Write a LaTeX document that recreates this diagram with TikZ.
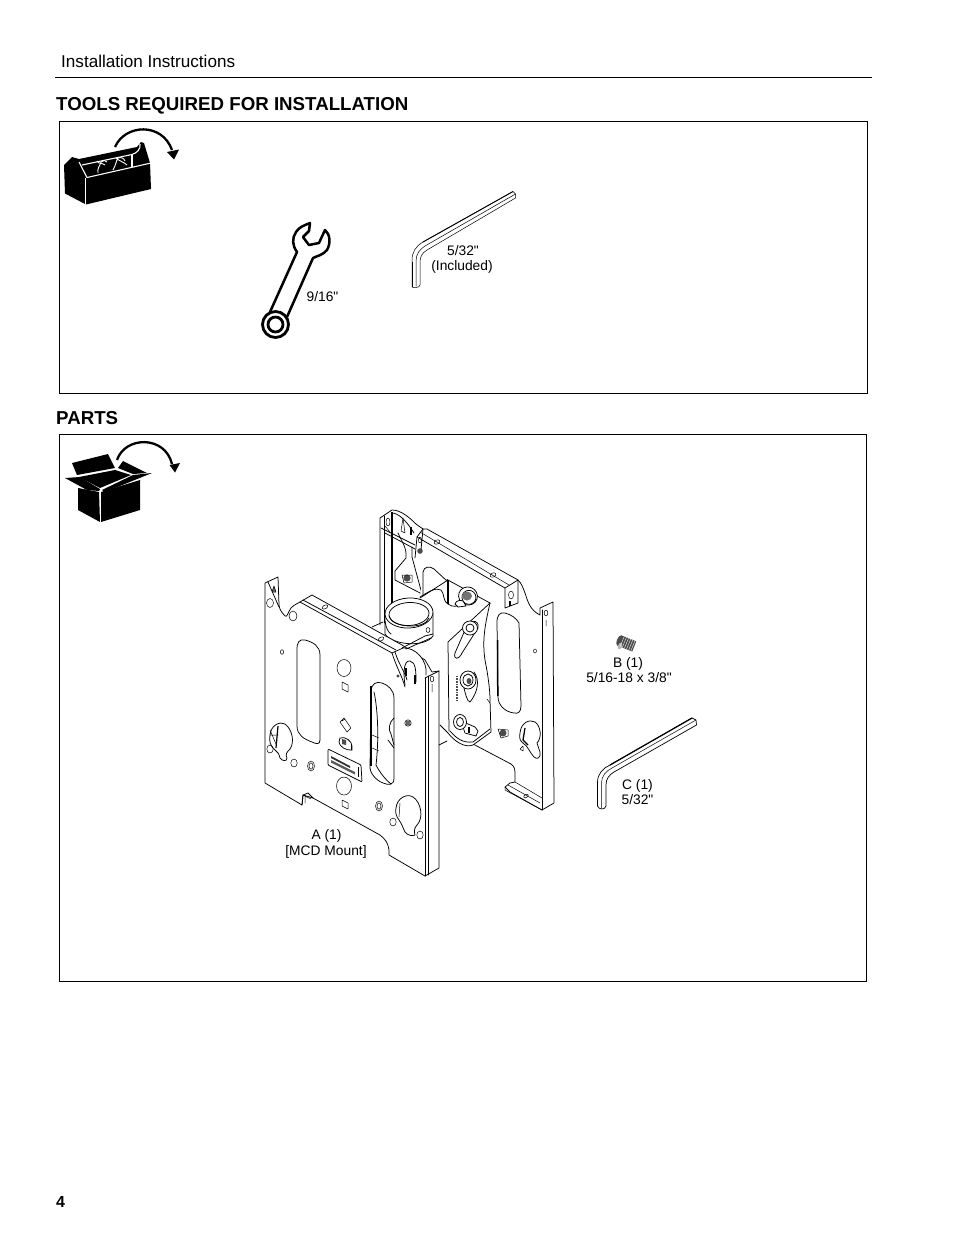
\documentclass[tikz,border=0pt]{standalone}
\usepackage{fontspec}
\setmainfont{Liberation Sans}[Ligatures=TeXOff]
\tikzset{
 ln/.style={line width=.75pt,line join=round,line cap=round},
 thn/.style={line width=.5pt,line join=round,line cap=round},
 frame/.style={draw=black,line width=1pt},
 lbl/.style={font=\fontsize{13.8}{15}\selectfont,align=center,inner sep=0pt},
 head/.style={font=\fontsize{18.7}{20}\selectfont\bfseries,anchor=base west,inner sep=0pt},
 wl/.style={white,line width=1.1pt,line join=round},
 wf/.style={fill=white,ln,draw=black},
 arc/.style={line width=2.3pt,line cap=butt}
}
\begin{document}
\begin{tikzpicture}[x=1pt,y=-1pt]
\useasboundingbox (0,0) rectangle (954,1235);
\fill[white] (0,0) rectangle (954,1235);
% page furniture
\draw[line width=1pt] (55,77) -- (872,77);
\node[font=\fontsize{17.1}{19}\selectfont,anchor=base west,inner sep=0pt] (hdr) at (61,67) {Installation Instructions};
\node[head] (t1) at (56,110) {TOOLS REQUIRED FOR INSTALLATION};
\node[head] (t2) at (56,424) {PARTS};
\node[font=\fontsize{16}{18}\selectfont\bfseries,anchor=base west,inner sep=0pt] (pg) at (56,1207) {4};
\draw[frame] (59.5,121.5) rectangle (867.5,393.5);
\draw[frame] (59.5,434.5) rectangle (866.5,981.5);

% ---------- toolbox icon
\fill (64,165) -- (72,157) -- (79,159) -- (137,147) -- (141,142) -- (144,143) -- (150,163) -- (151,189) -- (86,204.500) -- (65,193.500) -- cycle;
\draw[wl] (79,162) -- (87,177.500) -- (151,163);
\draw[wl] (82,165) -- (132,154.500) .. controls (137,153) and (141,149) .. (140,144);
\draw[wl] (132,154.500) -- (132,167);
\draw[wl] (85.500,178) -- (85.500,205);
\draw[wl,line width=.9pt] (98,173) .. controls (97,168) and (100,166) .. (101,162) .. controls (103,160) and (106,160) .. (107,162) (97,161) .. controls (98,164) and (103,163) .. (105,165)
  (113,170) .. controls (116,165) and (116,161) .. (118,158) .. controls (121,157) and (124,158) .. (125,161) (116,158) .. controls (119,161) and (124,162) .. (127,165);
\draw[arc] (115,147) .. controls (125,124) and (162,122) .. (172,150);
\fill (174,159.500) -- (167,152) -- (179,149.500) -- cycle;

% ---------- wrench
\draw[line width=2.5pt,line join=round,fill=white]
  (270,312) -- (297,252) .. controls (292,245) and (292,238) .. (296,232)
  .. controls (299,227) and (305,225) .. (310,223) -- (309,231) -- (303,237) -- (309,245) -- (319,243)
  -- (325,230) .. controls (330,234) and (331,243) .. (327,250) .. controls (323,255) and (317,256) .. (313,258)
  -- (287,317);
\draw[line width=2.8pt,fill=white] (275.5,324.5) circle[radius=13];
\draw[line width=2.8pt,fill=white] (275.5,324.5) circle[radius=7.5];
\node[lbl] (l916) at (322.5,297) {9/16"};

% ---------- hex key (tools)
\draw[thn] (412,287) -- (412,260) .. controls (412,252) and (416,246) .. (423,242) -- (513,191.5) -- (515.5,194) -- (515.5,198) -- (427,250) .. controls (422,253) and (420,257) .. (420,262) -- (420,285) .. controls (420,288) and (413,288) .. (412,287);
\draw[thn] (416,286) -- (416,261) .. controls (416,254) and (420,249) .. (425,246) -- (515.5,194);
\draw[line width=1.8pt] (412.5,262) -- (412.5,287);
\draw[line width=.9pt] (423,242) -- (513,191.5);
\node[lbl] (l532) at (463,251) {5/32"};
\node[lbl] (linc) at (462,267) {(Included)};

% ---------- box icon
\fill (78,488) -- (99,492) -- (100,522) -- (78,510) -- cycle;
\fill (101,492) -- (140,480) -- (140,510) -- (101,522) -- cycle;
\fill (65,478) -- (80,477) -- (100,489) -- (99,491) -- (87,490) -- cycle;
\fill (102,490) -- (133,475) -- (152,473) -- (105,492) -- cycle;
\fill (72,463) -- (108,454) -- (115,468) -- (77,475) -- cycle;
\fill (123,461) -- (147,473) -- (133,474) -- (118,468) -- cycle;
\fill (79,477) -- (115,470) -- (131,475) -- (100,488) -- cycle;
\draw[arc] (117,460) .. controls (125,436) and (165,435) .. (172,464);
\fill (175,472.500) -- (169.500,465) -- (180,463) -- cycle;

% ---------- back plate
\fill[white] (540,608) -- (553,602) -- (554,803) -- (542,810) -- (505,787) -- (515,773) -- (473,744) -- (440,725) -- (440,640) -- (505,588) -- (518,580) -- cycle;
\draw[ln] (525,593) .. controls (528,602) and (530,610) .. (540,615) -- (540,608) -- (553,602) -- (554,803) -- (542,810) -- (510,792) -- (505,787) -- (510,783) -- (515,782) -- (515,773)
  .. controls (515,769) and (514,766) .. (511,764) -- (473,744);
\draw[ln] (542,610) -- (542,810);
\draw[thn] (515,782) -- (542,798) (505,787) -- (505,790) -- (542,810) (508,785) -- (540,803);
\draw[thn,rotate around={30:(526,796)}] (526,796) ellipse (2.5 and 1.5);
\draw[thn] (546,613) ellipse (1.8 and 3) (546,620) -- (546,626);
% back slot
\draw[ln] (497,622) .. controls (497,615) and (500,612) .. (505,613) .. controls (512,615) and (516,618) .. (519,623) -- (521,706) .. controls (521,712) and (518,714) .. (514,713) .. controls (505,712) and (498,705) .. (498,697) -- cycle;
\draw[line width=1.5pt] (497.5,640) -- (497.8,696);
\draw[thn] (535,651) ellipse (1.5 and 2);
% back keyhole
\draw[ln] (520,733) .. controls (521,722) and (530,719) .. (535,722) .. controls (541,726) and (542,738) .. (537,743) -- (540,752) .. controls (541,758) and (537,760) .. (534,757) .. controls (530,753) and (528,746) .. (523,743) .. controls (520,741) and (519,738) .. (520,733) -- cycle;
\draw[line width=1.3pt] (525,728) -- (523,740) -- (528,745);
\draw[thn] (520,749) -- (523,746) -- (523,751) -- cycle;
% small hex screw on back plate
\fill[black!70] (503,733) circle[radius=3.5];
\draw[thn] (498,729) -- (508,730) -- (508,736) -- (501,738) -- cycle;

% ---------- back left bracket
\fill[white] (380,518) -- (392,510) -- (423,529) -- (423,597) -- (392,625) -- (380,625) -- cycle;
\draw[ln] (380,625) -- (380,518) -- (392,510) .. controls (400,510) and (408,516) .. (416,524) -- (423,529);
\draw[line width=1.5pt] (392,512) -- (392,622);
\draw[ln] (384,516) -- (384,623);
\draw[ln] (381,528) -- (415,545) (385,533) -- (415,549);
\draw[ln] (392,513) .. controls (398,513) and (406,520) .. (414,533);
\draw[thn] (388,522) ellipse (2 and 4);
\draw[thn] (385,526) -- (390,532);
\draw[ln] (398,533) .. controls (402,542) and (407,548) .. (406,558) -- (395,571) -- (395,580) -- (422,594) -- (412,557) -- (412,547);
\draw[thn] (403,518) -- (405,533) -- (401,531) -- cycle;
\draw[line width=1.5pt] (411,527) -- (411,535);
\fill[black!70] (407,578) circle[radius=3.6];
\draw[thn] (402,575) -- (412,575) -- (412,582) -- (404,583) -- cycle;

% ---------- back upper bracket (top)
\fill[white] (423,529) -- (427,529) -- (518,580) -- (518,603) -- (505,608) -- (417,558) -- (417,537) -- cycle;
\draw[ln] (415,558) -- (417,537) -- (423,529) -- (427,529) -- (518,580) .. controls (522,584) and (523,588) .. (525,593);
\draw[ln] (417,537) -- (505,588) -- (505,608) -- (518,603) -- (518,580) (423,529) -- (421,550) (505,588) -- (518,580);
\draw[thn] (420,532) -- (509,585);
\draw[thn] (511,595) ellipse (2.5 and 4);
\draw[line width=1.2pt] (510,601) -- (510,606);
\draw[thn,rotate around={28:(437,542)}] (437,542) ellipse (3 and 2);
\draw[thn,rotate around={28:(493,575)}] (493,575) ellipse (3 and 2);
\fill[black!70] (420,551) circle[radius=2.8];
\draw[thn] (420,540) ellipse (1.5 and 3);

% ---------- centre body
\fill[white] (423,572) .. controls (424,566) and (430,566) .. (434,569) -- (445,580) -- (490,603) -- (485,660) -- (491,732) -- (473,745) -- (448,733) -- (440,725) -- (440,645) -- (420,597) -- cycle;
\draw[ln] (423,595) -- (423,572) .. controls (424,566) and (430,566) .. (434,569) -- (447,581);
\draw[ln] (490,603) -- (447,579.500);
\draw[ln] (490,603)  .. controls (485,625) and (482,640) .. (485,660) .. controls (488,675) and (490,690) .. (490,700) -- (491,732) -- (473,745) .. controls (465,748) and (455,742) .. (448,733) -- (440,725);
\draw[ln] (420,598) -- (448,580);
\draw[line width=1.2pt] (448,580) -- (448,604);
\draw[ln] (448,642) -- (490,603) (448,642) -- (449,731);
\draw[ln] (420,597) .. controls (428,592) and (436,587) .. (441,590) .. controls (445,594) and (442,600) .. (448,604) .. controls (453,608) and (458,606) .. (462,604);
\draw[ln] (450,731) .. controls (457,739) and (463,743) .. (473,742) -- (490,729);
% bolts
\draw[ln,fill=white,rotate around={-20:(468,596)}] (468,596) ellipse (9.5 and 9);
\draw[ln,rotate around={-20:(468,597)}] (469,597) ellipse (7 and 7);
\fill[black!55] (467,596) ellipse (5 and 4.5);
\draw[wf] (455,604) .. controls (456,600) and (461,600) .. (463,601) -- (466,606) -- (458,607) -- cycle;
\draw[ln] (472,622) .. controls (476,620) and (479,623) .. (478,628) -- (462,653) .. controls (459,660) and (453,660) .. (455,653) -- (465,630) .. controls (466,626) and (468,622) .. (472,622) -- cycle;
\draw[wf] (470,628) ellipse (7.5 and 7);
\draw[ln] (470,628) ellipse (4 and 4);
% upper bolt on body
\draw[ln] (474,672) .. controls (480,680) and (478,692) .. (470,702) .. controls (467,702) and (465,692) .. (464,688);
\draw[wf] (468,680) ellipse (8 and 9);
\draw[ln] (468,680) ellipse (5 and 6);
\fill[black!70] (469,681) ellipse (2.5 and 3);
% lower bolt on body
\draw[wf] (461,721) -- (475,727) -- (478,731) -- (476,736) -- (465,733) -- cycle;
\draw[wf] (460,722) ellipse (6.5 and 7.5);
\draw[ln] (460,722) ellipse (3.5 and 4.5);
\draw[line width=1.4pt] (469,727) -- (469,733);
\draw[line width=2pt,black!70,dash pattern=on 1pt off .6pt] (456.5,676) -- (456.5,701);
\draw[thn] (487,699) -- (490,703);

% ---------- collar (tube)
\draw[ln] (372,627) -- (383,622);
\draw[wf] (385,613) -- (385,634) .. controls (392,645) and (425,648) .. (433,636) -- (433,613) -- cycle;
\draw[ln,fill=white,rotate around={3:(409,613)}] (409,613) ellipse (24 and 15);
\draw[ln,rotate around={3:(409,614)}] (409,614) ellipse (20 and 11.5);
\draw[ln] (389,616) .. controls (392,628) and (425,630) .. (429,618);
\draw[thn] (428,630) ellipse (2 and 2.5);
\draw[ln] (385,621) .. controls (386,628) and (388,632) .. (391,634);

% ---------- front plate
\draw[wf] (265,583) -- (278,577) -- (279,605) .. controls (280,612) and (283,613) .. (285,616) .. controls (287,618) and (288,612) .. (291,608)
  .. controls (295,604) and (297,604) .. (300,602) -- (312,595) -- (402,645) -- (425,660) -- (432,672) -- (439,671) -- (439,868) -- (425,876) -- (389,855) -- (389,850)
  .. controls (388,843) and (386,840) .. (380,835) -- (313,798) -- (303,795) -- (302,805) -- (265,783) -- cycle;
\draw[ln] (425,678) -- (425,876) (428,676) -- (428,875);
\draw[ln] (425,678) -- (439,671);
\draw[ln] (300,602) -- (392,653) (303,600) -- (396,650);
% top left corner details
\draw[ln] (268,582) -- (279,607);
\draw[thn,fill=black!60] (274,586) -- (276,592) -- (272,592) -- cycle;
\draw[thn] (270,603) ellipse (3.5 and 4.5);
\draw[thn] (293,616) ellipse (4 and 5);
\draw[thn,rotate around={28:(325,607)}] (325,607) ellipse (3 and 1.8);
\draw[thn,rotate around={28:(381,639)}] (381,639) ellipse (3 and 1.8);
% lobe
\draw[ln,fill=white] (392,653) -- (403,648) .. controls (415,647) and (428,660) .. (426,675);
\draw[ln] (392,653) .. controls (396,666) and (402,676) .. (405,687);
\draw[ln] (395,652) .. controls (399,665) and (405,672) .. (407,680);
\draw[ln] (402,648) -- (425,636) -- (433,634) (406,649) -- (431,638);
\draw[ln] (405,685) .. controls (403,672) and (404,660) .. (410,661) .. controls (416,662) and (416,672) .. (416,682) ;
\draw[line width=1.4pt] (406,668) -- (406,676);
\draw[line width=1.4pt] (415,675) -- (415,684);
\draw[thn] (432,679) ellipse (1.8 and 3) (432,684) -- (432,692);
\fill[black!60] (408,723) circle[radius=2.5];
\draw[thn] (408,723) circle[radius=3.2];
\draw[thn] (398,676) circle[radius=1.2];
% slot left
\draw[ln] (297,650) .. controls (297,642) and (299,639) .. (305,640) .. controls (313,642) and (320,646) .. (320,655) -- (320,740) .. controls (320,745) and (316,744) .. (312,742) .. controls (304,739) and (297,735) .. (297,726) -- cycle;
\draw[thn] (282,652) ellipse (1.6 and 2.3);
% slot right
\draw[ln] (371,690) .. controls (372,684) and (376,681) .. (382,683) .. controls (388,685) and (394,690) .. (394,698) -- (394,778) .. controls (394,786) and (388,785) .. (383,783) .. controls (375,780) and (370,772) .. (370,768) -- cycle;
\draw[line width=1.8pt] (371,686) -- (371,766);
\draw[ln] (374,692) .. controls (378,710) and (379,740) .. (376,765) .. controls (380,773) and (386,780) .. (391,784);
\draw[thn] (372,735) -- (379,738) (372,748) -- (379,751);
\draw[ln] (394,718) .. controls (389,722) and (388,730) .. (391,734) -- (394,745) (388,740) -- (394,748);
% holes
\draw[thn] (344,668) ellipse (7 and 8.5);
\draw[thn] (344,786) ellipse (7.5 and 9);
\draw[thn] (342,682) -- (348,685) -- (348,692) -- (342,689) -- cycle;
\draw[thn] (342,800) -- (348,803) -- (348,809) -- (342,806) -- cycle;
\draw[thn] (340,722) -- (344,718) -- (351,728) -- (347,732) -- cycle (342,721) -- (345,719);
\draw[thn] (311,766) ellipse (3.5 and 5) (311,766) ellipse (2 and 3.2);
\draw[thn] (379,806) ellipse (3.5 and 5) (379,806) ellipse (2 and 3.2);
\draw[thn] (270,749) ellipse (3.2 and 4);
\draw[thn] (294,763) ellipse (3.2 and 4);
\draw[thn] (420,835) ellipse (3.2 and 4);
\draw[thn] (393,822) ellipse (3.2 and 4);
% round tag
\draw[ln] (340,738) .. controls (345,736) and (352,741) .. (352,746) -- (352,750) .. controls (346,751) and (339,746) .. (339,742) -- cycle;
\fill[black!70] (342,739) -- (346,740) -- (346,745) -- (342,744) -- cycle;
\draw[ln] (351,745) -- (351,750);
% label plate
\draw[ln,rounded corners=1pt] (328,749) -- (361,765) -- (362,782) -- (328,765) -- cycle;
\fill[black!80] (331,756) -- (350,766) -- (350,768) -- (331,758) -- cycle;
\fill[black!65] (331,760) -- (355,772) -- (355,774.500) -- (331,762.500) -- cycle;
\draw[line width=1pt] (358,767) -- (358,777);
% keyhole left
\draw[ln] (270,735) .. controls (271,725) and (280,721) .. (285,724) .. controls (292,729) and (295,742) .. (290,749) .. controls (287,752) and (285,754) .. (287,758) .. controls (287,762) and (282,761) .. (280,758) .. controls (279,754) and (278,752) .. (275,750) .. controls (270,746) and (269,741) .. (270,735) -- cycle;
\draw[line width=1.2pt] (278,726) -- (276,748);
\draw[thn] (270,735) -- (278,735) (270,730) -- (276,744);
% keyhole right
\draw[ln] (396,808) .. controls (397,798) and (407,793) .. (413,797) .. controls (421,802) and (424,818) .. (417,825) .. controls (414,828) and (414,832) .. (415,835) .. controls (413,836) and (408,836) .. (405,832) .. controls (403,828) and (402,824) .. (399,820) .. controls (396,816) and (395,812) .. (396,808) -- cycle;
\draw[thn] (400,803) -- (399,817);
% notch
\draw[ln] (302,805) -- (303,795) -- (308,793) -- (313,798);
\draw[thn] (305,796) -- (305,803) (303,795) -- (311,799);
\draw[ln] (439,745) -- (447,741);
\node[lbl] (la1) at (326.5,836) {A (1)};
\node[lbl] (la2) at (326,851.5) {[MCD Mount]};

% ---------- screw B
\fill[black!70,rotate around={-22:(627,643)}] (619,638) rectangle (635,649);
\fill[black!70,rotate around={-22:(627,643)}] (619,643.500) ellipse (2.5 and 5.500);
\fill[black!30,rotate around={-22:(620,646)}] (620,646) ellipse (2 and 3.5);
\foreach \i in {0,...,5}{\draw[white,line width=.35pt,rotate around={-22:(627,643)}] (622+2.3*\i,638) -- (622+2.3*\i,649);}
\node[lbl] (lb1) at (628,663.5) {B (1)};
\node[lbl] (lb2) at (629,678) {5/16-18 x 3/8"};

% ---------- hex key C
\draw[thn,line width=.7pt] (597.500,806) -- (597.500,782) .. controls (597.500,774) and (603,768) .. (610,765) -- (692,718) -- (696,720) -- (696.500,725) -- (614,772) .. controls (609,775) and (606,779) .. (606,785) -- (606,806) .. controls (605,810) and (599,810) .. (597.500,806) -- cycle;
\draw[thn] (601.500,808) -- (601.500,783) .. controls (601.500,776) and (606,771) .. (612,768) -- (696,720);
\draw[line width=1.2pt] (597.500,784) -- (597.500,806);
\draw[line width=1.2pt] (610,765) -- (692,718);
\node[lbl] (lc1) at (637.5,786) {C (1)};
\node[lbl] (lc2) at (637.5,800) {5/32"};
\end{tikzpicture}
\end{document}
